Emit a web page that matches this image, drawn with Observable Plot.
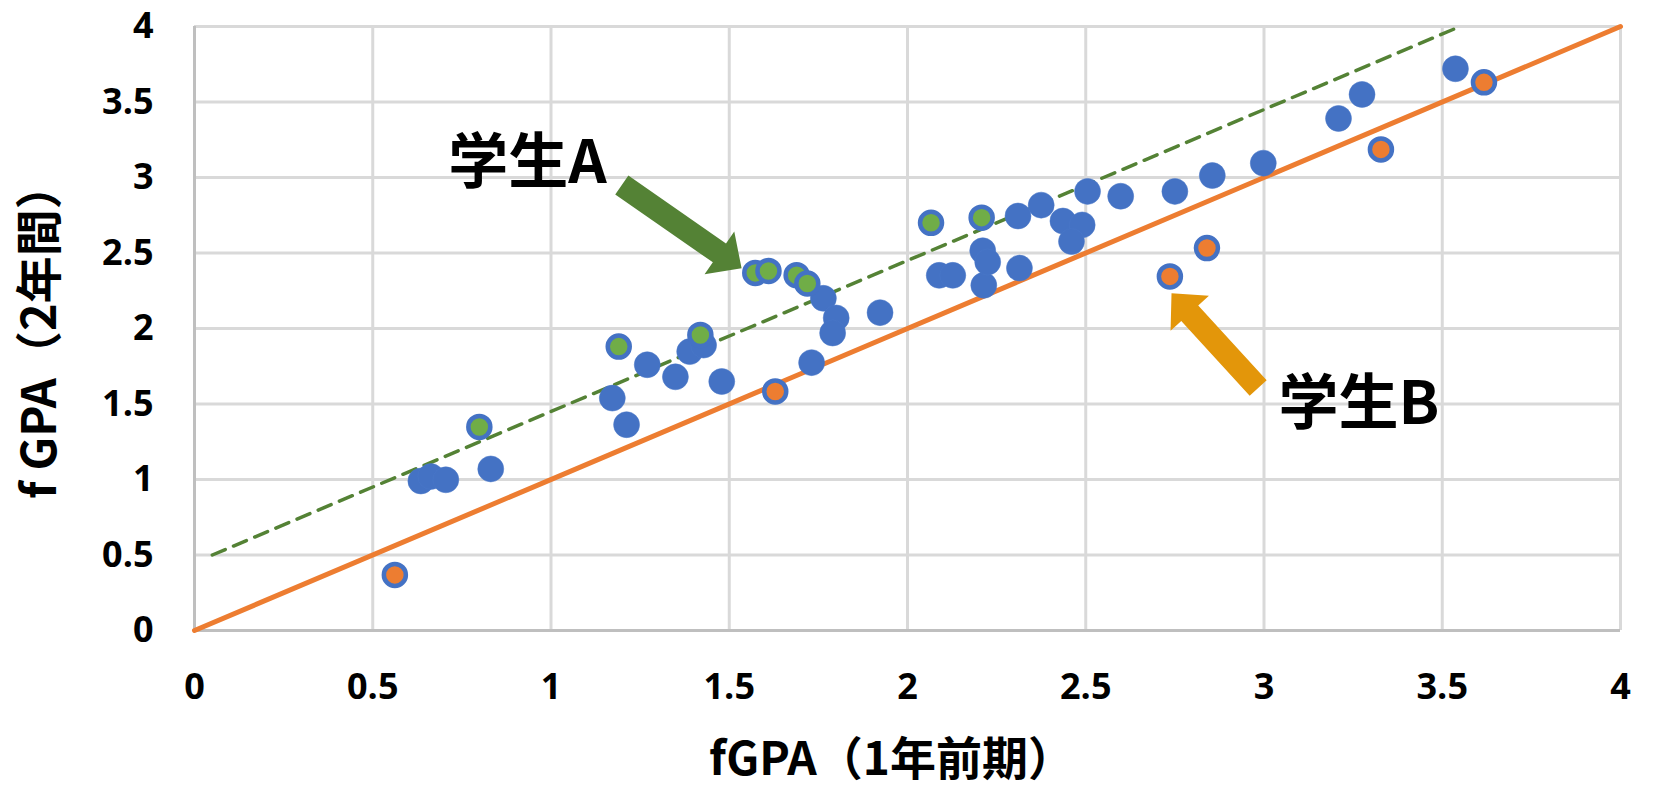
<!DOCTYPE html>
<html><head><meta charset="utf-8">
<script src="https://cdn.jsdelivr.net/npm/d3@7"></script>
<script src="https://cdn.jsdelivr.net/npm/@observablehq/plot@0.6"></script>
<style>html,body{margin:0;padding:0;background:#fff;}</style>
</head><body><div id="chart"></div>
<script>
// --- data ---
const blueX = [0.635,0.663,0.705,0.831,1.172,1.212,1.270,1.349,1.389,1.428,1.479,1.731,1.764,1.800,1.790,1.923,2.089,2.127,2.214,2.211,2.225,2.314,2.310,2.375,2.436,2.490,2.460,2.505,2.598,2.750,2.855,2.998,3.209,3.275,3.537];
const blueY = [0.990,1.020,0.998,1.070,1.539,1.363,1.760,1.680,1.847,1.890,1.649,1.774,2.200,2.070,1.970,2.105,2.352,2.352,2.286,2.515,2.440,2.400,2.745,2.817,2.712,2.686,2.576,2.908,2.876,2.908,3.013,3.095,3.391,3.550,3.720];
const greenX = [0.799,1.190,1.419,1.573,1.610,1.689,1.719,2.066,2.208];
const greenY = [1.348,1.880,1.957,2.368,2.381,2.353,2.298,2.700,2.734];
const orangeX = [0.562,1.629,2.736,2.840,3.328,3.617];
const orangeY = [0.368,1.583,2.345,2.533,3.186,3.630];
const refLineX = [0, 4];
const refLineY = [0, 4];
const dashLineX = [0.05, 3.55];
const dashLineY = [0.5, 4.0];
const tickValues = [0, 0.5, 1, 1.5, 2, 2.5, 3, 3.5, 4];
const tickLabels = ["0","0.5","1","1.5","2","2.5","3","3.5","4"];
const xTitle = "fGPA（1年前期）";
const yTitle = "f GPA（2年間）";
const noteText = ["学生A", "学生B"];
const noteX = [0.712, 3.041];
const noteY = [3.09, 1.497];
const arrowTailX = [1.200, 2.985];
const arrowTailY = [2.947, 1.603];
const arrowTipX = [1.536, 2.742];
const arrowTipY = [2.395, 2.230];
const arrowColor = ["#548235", "#E3960A"];

// --- build tables ---
const pts = (xs, ys) => xs.map((x, i) => ({x, y: ys[i]}));
const blue = pts(blueX, blueY), green = pts(greenX, greenY), orange = pts(orangeX, orangeY);
const refLine = pts(refLineX, refLineY), dashLine = pts(dashLineX, dashLineY);
const notes = noteText.map((t, i) => ({t, x: noteX[i], y: noteY[i]}));
const arrows = arrowTailX.map((x1, i) => ({x1, y1: arrowTailY[i], x2: arrowTipX[i], y2: arrowTipY[i], color: arrowColor[i]}));
const fmt = d => tickLabels[tickValues.indexOf(d)];

const SHAFT = 23, HEAD_LEN = 27, HEAD_W = 52;
function blockArrows(index, scales, values) {
  const g = d3.create("svg:g");
  for (const i of index) {
    const x1 = values.x1[i], y1 = values.y1[i], x2 = values.x2[i], y2 = values.y2[i];
    const dx = x2 - x1, dy = y2 - y1, L = Math.hypot(dx, dy);
    const ux = dx / L, uy = dy / L, nx = -uy, ny = ux;
    const bx = x2 - ux * HEAD_LEN, by = y2 - uy * HEAD_LEN;
    const p = [
      [x1 + nx * SHAFT / 2, y1 + ny * SHAFT / 2],
      [bx + nx * SHAFT / 2, by + ny * SHAFT / 2],
      [bx + nx * HEAD_W / 2, by + ny * HEAD_W / 2],
      [x2, y2],
      [bx - nx * HEAD_W / 2, by - ny * HEAD_W / 2],
      [bx - nx * SHAFT / 2, by - ny * SHAFT / 2],
      [x1 - nx * SHAFT / 2, y1 - ny * SHAFT / 2]
    ];
    g.append("path").attr("d", "M" + p.map(q => q.join(",")).join("L") + "Z").attr("fill", arrows[i].color);
  }
  return g.node();
}

const chart = Plot.plot({
  width: 1662,
  height: 789,
  marginLeft: 194,
  marginRight: 42,
  marginTop: 26,
  marginBottom: 159,
  style: {fontFamily: "'Open Sans', 'Noto Sans', sans-serif", fontSize: "36px", fontWeight: "bold", color: "#000", background: "#fff"},
  x: {domain: [0, 4]},
  y: {domain: [0, 4]},
  marks: [
    Plot.gridX(tickValues, {stroke: "#D9D9D9", strokeOpacity: 1, strokeWidth: 3}),
    Plot.gridY(tickValues, {stroke: "#D9D9D9", strokeOpacity: 1, strokeWidth: 3}),
    Plot.ruleX([0], {stroke: "#BFBFBF", strokeWidth: 3}),
    Plot.ruleY([0], {stroke: "#BFBFBF", strokeWidth: 3}),
    Plot.axisX(tickValues, {tickSize: 0, tickPadding: 43, tickFormat: fmt, label: null, fontSize: 36, fontWeight: "bold"}),
    Plot.axisY(tickValues, {tickSize: 0, tickPadding: 41, tickFormat: fmt, label: null, fontSize: 36, fontWeight: "bold"}),
    Plot.line(refLine, {x: "x", y: "y", stroke: "#ED7D31", strokeWidth: 5}),
    Plot.line(dashLine, {x: "x", y: "y", stroke: "#548235", strokeWidth: 3.5, strokeDasharray: "14,9"}),
    Plot.dot(blue, {x: "x", y: "y", r: 13, fill: "#4472C4", stroke: "#4A78C8", strokeWidth: 0.5}),
    Plot.dot(green, {x: "x", y: "y", r: 11, fill: "#70AD47", stroke: "#4472C4", strokeWidth: 4.5}),
    Plot.dot(orange, {x: "x", y: "y", r: 11, fill: "#ED7D31", stroke: "#4472C4", strokeWidth: 4.5}),
    Plot.link(arrows, {x1: "x1", y1: "y1", x2: "x2", y2: "y2", stroke: "color", strokeWidth: SHAFT, render: blockArrows}),
    Plot.text(notes, {x: "x", y: "y", text: "t", textAnchor: "start", fontSize: 60, fontWeight: "bold", fontFamily: "'Noto Sans CJK JP', sans-serif", fill: "#000"}),
    Plot.text([xTitle], {text: d => d, frameAnchor: "bottom", textAnchor: "middle", lineAnchor: "middle", dx: -16, dy: 130, fontSize: 46, fontWeight: "bold", fontFamily: "'Noto Sans CJK JP', sans-serif", fill: "#000"}),
    Plot.text([yTitle], {text: d => d, frameAnchor: "left", textAnchor: "middle", lineAnchor: "middle", dx: -154, dy: 2, rotate: -90, fontSize: 47, fontWeight: "bold", fontFamily: "'Noto Sans CJK JP', sans-serif", fill: "#000"})
  ]
});
document.getElementById("chart").append(chart);
</script>
</body></html>
